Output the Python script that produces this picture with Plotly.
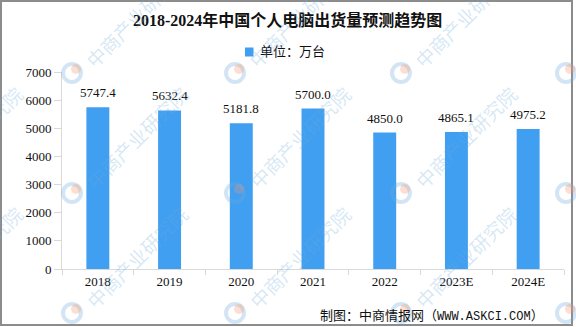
import plotly.graph_objects as go

# Shipment data (unit: 10k units)
years = ["2018", "2019", "2020", "2021", "2022", "2023E", "2024E"]
shipments = [5747.4, 5632.4, 5181.8, 5700.0, 4850.0, 4865.1, 4975.2]
y_ticks = [0, 1000, 2000, 3000, 4000, 5000, 6000, 7000]

title_text = "2018-2024年中国个人电脑出货量预测趋势图"
series_name = "单位：万台"
source_text = ("制图：中商情报网（<span style='font-family:Liberation Mono;font-size:12px'>"
               "WWW.ASKCI.COM</span>）")
watermark_text = "中商产业研究院"

BAR_COLOR = "#409FF1"

W, H = 576, 327
ML, MR, MT, MB = 62, 12, 72, 58
PW, PH = W - ML - MR, H - MT - MB

NUM_FONT = "Liberation Serif, Noto Sans CJK SC, serif"
CJK_FONT = "Liberation Serif, Noto Sans CJK SC, sans-serif"


def px_x(x):
    return (x - ML) / PW


def px_y(y):
    return 1 - (y - MT) / PH


fig = go.Figure()
fig.add_trace(go.Bar(
    x=years, y=shipments, name=series_name,
    marker=dict(color=BAR_COLOR, line=dict(width=0)),
    width=0.32, showlegend=False,
))

annotations = []
# value labels above bars (category index positions)
for i, v in enumerate(shipments):
    annotations.append(dict(
        x=i, y=v, xref="x", yref="y", text=f"{v:.1f}", showarrow=False,
        yanchor="bottom", yshift=5,
        font=dict(family=NUM_FONT, size=13, color="#111111"),
    ))

# title
annotations.append(dict(
    x=px_x(287), y=px_y(20), xref="paper", yref="paper", text=f"<b>{title_text}</b>",
    showarrow=False, xanchor="center", yanchor="middle",
    font=dict(family=CJK_FONT, size=16, color="#111111"),
))

# series key: swatch + label
annotations.append(dict(
    x=px_x(258), y=px_y(52), xref="paper", yref="paper", text=series_name,
    showarrow=False, xanchor="left", yanchor="middle",
    font=dict(family=CJK_FONT, size=13, color="#111111"),
))

# source note
annotations.append(dict(
    x=px_x(546), y=px_y(316), xref="paper", yref="paper", text=source_text,
    showarrow=False, xanchor="right", yanchor="middle",
    font=dict(family=CJK_FONT, size=13, color="#111111"),
))

shapes = [dict(
    type="rect", xref="paper", yref="paper",
    x0=px_x(245), x1=px_x(253.5), y0=px_y(56.5), y1=px_y(47.5),
    line=dict(width=0), fillcolor=BAR_COLOR,
)]

# tiled diagonal watermark
for lx in [-93, 72, 235, 401, 566]:
    for ly in [-47, 73, 193, 313]:
        annotations.append(dict(
            x=px_x(lx + 64), y=px_y(ly - 56), xref="paper", yref="paper",
            text=watermark_text, showarrow=False, textangle=-45,
            xanchor="center", yanchor="middle",
            font=dict(family="Noto Sans CJK SC", size=19, color="rgba(110,170,220,0.28)"),
        ))
        shapes.append(dict(
            type="circle", xref="paper", yref="paper",
            xsizemode="pixel", ysizemode="pixel",
            xanchor=px_x(lx), yanchor=px_y(ly),
            x0=-9, x1=9, y0=-9, y1=9,
            line=dict(color="rgba(110,170,220,0.30)", width=4),
            fillcolor="rgba(0,0,0,0)", layer="above",
        ))
        shapes.append(dict(
            type="circle", xref="paper", yref="paper",
            xsizemode="pixel", ysizemode="pixel",
            xanchor=px_x(lx + 4), yanchor=px_y(ly - 4),
            x0=-5, x1=5, y0=-5, y1=5,
            line=dict(width=0),
            fillcolor="rgba(245,150,110,0.30)", layer="above",
        ))

# outer frame
shapes.append(dict(
    type="rect", xref="paper", yref="paper",
    x0=px_x(1), x1=px_x(572), y0=px_y(1), y1=px_y(325),
    line=dict(color="#8c8c8c", width=2), fillcolor="rgba(0,0,0,0)", layer="below",
))

fig.update_layout(
    width=W, height=H,
    margin=dict(l=ML, r=MR, t=MT, b=MB),
    paper_bgcolor="white", plot_bgcolor="white",
    annotations=annotations, shapes=shapes,
    showlegend=False,
    xaxis=dict(
        type="category", range=[-0.5, len(years) - 0.5], tickson="boundaries",
        ticks="outside", ticklen=5, tickangle=0,
        tickcolor="#d9d9d9", showline=True, linecolor="#d9d9d9", linewidth=1,
        showgrid=False, tickfont=dict(family=NUM_FONT, size=13, color="#111111"),
    ),
    yaxis=dict(
        range=[0, 7000], tickvals=y_ticks, ticks="outside", ticklen=7,
        tickcolor="#d9d9d9", showline=True, linecolor="#d9d9d9", linewidth=1,
        showgrid=False, zeroline=False,
        tickfont=dict(family=NUM_FONT, size=13, color="#111111"),
    ),
)

fig.write_html("out.html")
